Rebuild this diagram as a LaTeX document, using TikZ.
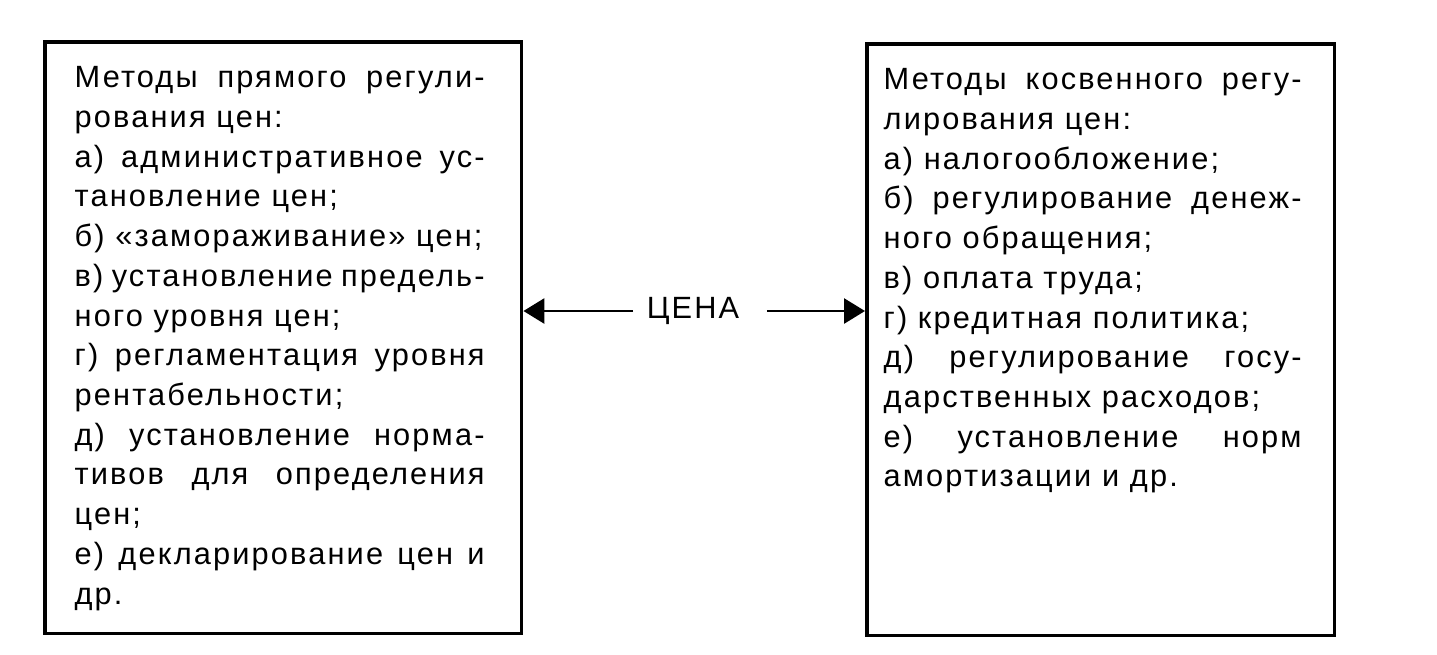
\documentclass[tikz,border=0pt]{standalone}
\usepackage{fontspec}
\setmainfont{Liberation Sans}[LetterSpace=7]
\usetikzlibrary{arrows.meta,positioning,calc}
\setlength{\parindent}{0pt}

\begin{document}
\begin{tikzpicture}[x=0.02cm,y=-0.02cm,>={Triangle[length=0.42cm,width=0.5cm]},
				thick]
				\tikzstyle{frame}=[draw=black,line width=2pt,inner sep=0pt,anchor=north west]
				\tikzstyle{big}=[inner sep=0pt,font=\fontsize{17.5pt}{22.6pt}\selectfont]
				\tikzstyle{txt}=[big,align=justify]
				\useasboundingbox (0,0) rectangle (1437,654);
				\node[frame,minimum width=9.54cm,minimum height=11.84cm] (L) at (43,40) {};
				\node[frame,minimum width=9.36cm,minimum height=11.84cm] (R) at (865,42) {};
				
				\node[txt,text width=8.2cm] (Ltxt) [below right=0.52cm and 0.62cm of L.north west]
				{Методы прямого регули-\linebreak рования цен:\newline
				а) административное ус-\linebreak тановление цен;\newline
				б) «замораживание» цен;\newline
				в) установление предель-\linebreak ного уровня цен;\newline
				г) регламентация уровня\linebreak рентабельности;\newline
				д) установление норма-\linebreak тивов для определения\linebreak цен;\newline
				е) декларирование цен и\linebreak др.};
				\node[txt,text width=8.36cm] (Rtxt) [below right=0.52cm and 0.36cm of R.north west]
				{Методы косвенного регу-\linebreak лирования цен:\newline
				а) налогообложение;\newline
				б) регулирование денеж-\linebreak ного обращения;\newline
				в) оплата труда;\newline
				г) кредитная политика;\newline
				д) регулирование госу-\linebreak дарственных расходов;\newline
				е) установление норм\linebreak амортизации и др.};
				
				\node[big] (cena) at (693,311) {ЦЕНА};
				\draw[->,line width=1.6pt] ([xshift=-0.26cm]cena.west) -- (L.east |- cena.center);
				\draw[->,line width=1.6pt] ([xshift=0.54cm]cena.east) -- (R.west |- cena.center);
			\end{tikzpicture}
\end{document}
